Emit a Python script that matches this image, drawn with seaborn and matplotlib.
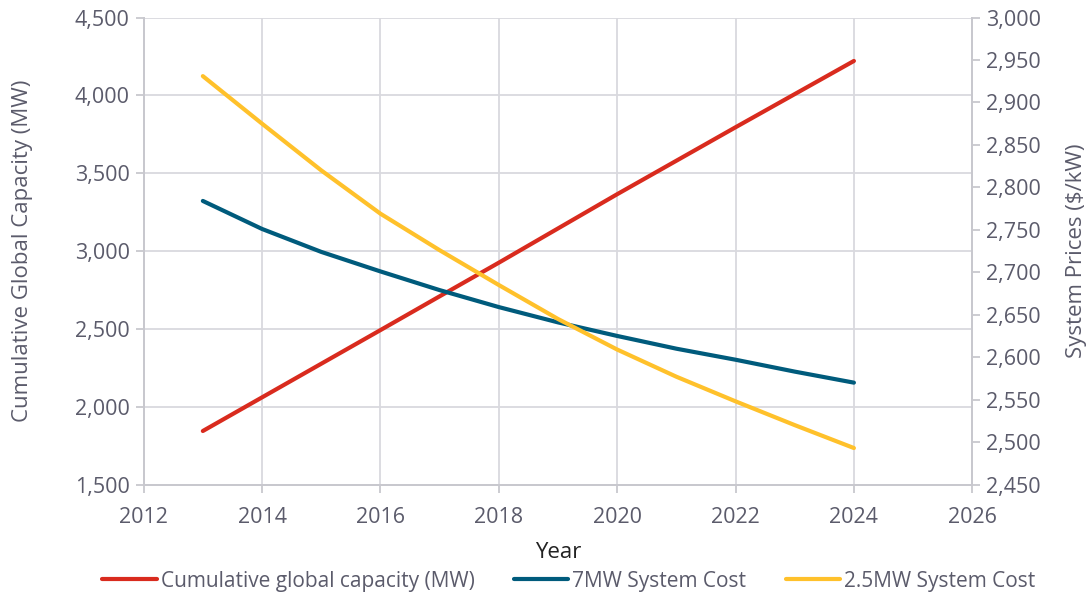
import numpy as np
import pandas as pd
import matplotlib.pyplot as plt
import seaborn as sns
from matplotlib.ticker import FuncFormatter

# Values
years = [2013, 2014, 2015, 2016, 2017, 2018, 2019, 2020, 2021, 2022, 2023, 2024]
capacity_mw = [1844, 2060, 2276, 2492, 2709, 2925, 3145, 3365, 3580, 3795, 4008, 4221]
cost_7mw = [2784, 2751, 2724, 2701, 2679, 2659, 2641, 2625, 2610, 2597, 2583, 2570]
cost_2_5mw = [2931, 2875, 2820, 2769, 2726, 2685, 2645, 2609, 2577, 2548, 2520, 2493]

red = '#D92B1E'
blue = '#005B7C'
yellow = '#FFC12B'
text_col = '#5B5B6B'
grid_col = '#D9D9DE'

sns.set_theme(style='white')
plt.rcParams['font.family'] = ['Open Sans', 'DejaVu Sans']

cap = pd.DataFrame({'Year': years, 'Capacity': capacity_mw})
cost = pd.DataFrame({'Year': years, '7MW System Cost': cost_7mw,
                     '2.5MW System Cost': cost_2_5mw})
cost_long = cost.melt(id_vars='Year', var_name='Series', value_name='Cost')

fig = plt.figure(figsize=(10.9, 5.96), dpi=100)
ax = fig.add_axes([0.1318, 0.187, 0.892 - 0.1318, 0.9706 - 0.187])
ax2 = ax.twinx()

sns.lineplot(data=cap, x='Year', y='Capacity', color=red, lw=3, ax=ax,
             label='Cumulative global capacity (MW)', legend=False)
sns.lineplot(data=cost_long, x='Year', y='Cost', hue='Series',
             palette=[blue, yellow], lw=3, ax=ax2, legend=False)

# Left axis / grid
ax.set_xlim(2012, 2026)
ax.set_ylim(1500, 4500)
ax.set_xticks(range(2012, 2027, 2))
ax.set_yticks(range(1500, 4501, 500))
ax.yaxis.set_major_formatter(FuncFormatter(lambda v, p: f'{int(v):,}'))
ax.grid(True, color=grid_col, lw=1.3)
ax.set_axisbelow(True)

# Right axis
ax2.set_ylim(2450, 3000)
ax2.set_yticks(range(2450, 3001, 50))
ax2.yaxis.set_major_formatter(FuncFormatter(lambda v, p: f'{int(v):,}'))
ax2.grid(False)

for a in (ax, ax2):
    a.spines['top'].set_visible(False)
    for s in ('left', 'right', 'bottom'):
        a.spines[s].set_color('#C8C8CE')
        a.spines[s].set_linewidth(1.3)
    a.tick_params(colors=text_col, labelsize=15.5, length=6, width=1.3)
    a.tick_params(axis='both', color='#C8C8CE')

ax.tick_params(axis='y', left=True, pad=4)
ax.tick_params(axis='x', bottom=True, pad=10)
ax2.tick_params(axis='y', right=True, pad=4)

ax.set_xlabel('Year', fontsize=16, color='#222222', labelpad=10)
ax.set_ylabel('Cumulative Global Capacity (MW)', fontsize=16, color=text_col, labelpad=30)
ax2.set_ylabel('System Prices ($/kW)', fontsize=16, color=text_col, labelpad=18)

# Combined legend
h1, l1 = ax.get_legend_handles_labels()
h2 = ax2.get_lines()
handles = h1 + list(h2[:2])
labels = ['Cumulative global capacity (MW)', '7MW System Cost', '2.5MW System Cost']
fig.legend(handles, labels, loc='center', bbox_to_anchor=(0.522, 0.025), ncol=3,
           frameon=False, fontsize=15, labelcolor=text_col, handlelength=2.6,
           handletextpad=0.2, columnspacing=1.9)

fig.savefig('out.png', dpi=100)
